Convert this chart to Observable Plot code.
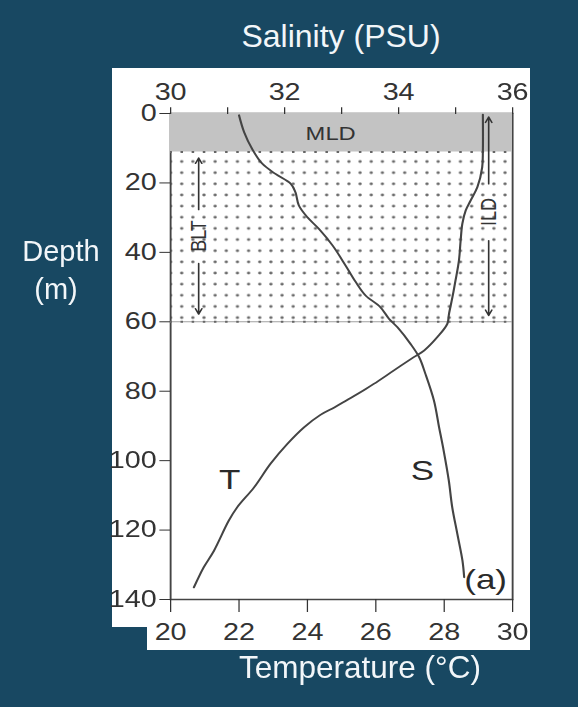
<!DOCTYPE html>
<html><head><meta charset="utf-8">
<script src="https://cdn.jsdelivr.net/npm/d3@7"></script>
<script src="https://cdn.jsdelivr.net/npm/@observablehq/plot@0.6"></script>
<style>
html,body{margin:0;padding:0;background:#184862;}
#page{position:relative;width:578px;height:707px;background:#184862;overflow:hidden;font-family:"Liberation Sans",Arial,sans-serif;color:#f2f6f9;}
.t{position:absolute;white-space:nowrap;text-align:center;line-height:1;}
#fig{position:absolute;left:112px;top:68px;width:418px;height:582px;background:#fff;}
#figInner{transform:scaleX(1.25);transform-origin:0 0;width:334px;height:582px;}
#notch{position:absolute;left:112px;top:627px;width:35px;height:23px;background:#184862;}
</style></head>
<body>
<div id="page">
  <div class="t" style="left:191px;width:300px;top:20px;font-size:32px;">Salinity (PSU)</div>
  <div id="fig"><div id="figInner"></div></div>
  <div id="notch"></div>
  <div class="t" style="left:0;width:122px;top:237px;font-size:29px;">Depth</div>
  <div class="t" style="left:0;width:112px;top:275px;font-size:29px;">(m)</div>
  <div class="t" style="left:210px;width:300px;top:652px;font-size:31.5px;">Temperature (°C)</div>
</div>
<script>
// Temperature profile (°C) vs depth (m)
const depthT = [0.3, 10.7, 15.5, 21.2, 25.1, 27.9, 31.7, 36.6, 42.4, 48.1, 52.9, 57.7, 60.6, 64.4, 68.3, 70.2, 74.0, 77.9, 80.6, 82.6, 84.6, 86.8, 90.4, 95.2, 100.9, 107.7, 113.4, 117.3, 125.9, 130.7, 136.5];
const temperature = [29.13, 29.13, 29.11, 28.97, 28.77, 28.63, 28.53, 28.48, 28.43, 28.33, 28.24, 28.14, 28.09, 27.80, 27.41, 27.11, 26.53, 25.94, 25.50, 25.15, 24.80, 24.38, 23.90, 23.41, 22.92, 22.44, 21.95, 21.70, 21.27, 20.97, 20.68];
// Salinity profile (PSU) vs depth (m)
const depthS = [0.5, 5.4, 10.2, 14.5, 17.4, 20.3, 22.7, 26.5, 29.9, 33.2, 38.0, 43.8, 48.6, 52.4, 55.8, 59.1, 61.6, 66.4, 70.2, 75.0, 82.7, 90.4, 97.1, 105.7, 113.4, 121.1, 128.8, 133.6];
const salinity = [31.20, 31.29, 31.43, 31.61, 31.84, 32.11, 32.19, 32.25, 32.40, 32.60, 32.84, 33.07, 33.25, 33.42, 33.68, 33.83, 33.98, 34.21, 34.36, 34.47, 34.62, 34.71, 34.79, 34.88, 34.94, 35.03, 35.12, 35.15];
// Layers (m)
const mld = 11.1;
const ild = 60;
// Axis ticks
const depthTicks = [0, 20, 40, 60, 80, 100, 120, 140];
const tempTicks = [20, 22, 24, 26, 28, 30];
const salTicks = [30, 31, 32, 33, 34, 35, 36];
// Arrow positions
const bltArrowTemp = 20.82;
const ildArrowSal = 35.58;

const salToT = s => 20 + (s - 30) * 10 / 6;
const tToSal = t => 30 + (t - 20) * 0.6;

const tData = depthT.map((d, i) => ({depth: d, value: temperature[i]}));
const sData = depthS.map((d, i) => ({depth: d, value: salToT(salinity[i])}));
const bands = [{top: 0, bottom: mld, kind: "MLD"}, {top: mld, bottom: ild, kind: "BLT"}];
const arrows = [
  {x: bltArrowTemp, from: 27.7, to: 12.8},
  {x: bltArrowTemp, from: 43.2, to: 57.8},
  {x: salToT(ildArrowSal), from: 20.3, to: 1.0},
  {x: salToT(ildArrowSal), from: 36.6, to: 58.2}
];
const sideLabels = [
  {text: "BLT", x: bltArrowTemp, depth: 35.3},
  {text: "ILD", x: salToT(ildArrowSal), depth: 28.4}
];
const curveLabels = [
  {text: "T", x: 21.73, depth: 105.6},
  {text: "S", x: 27.36, depth: 103.1},
  {text: "(a)", x: 29.21, depth: 134.3}
];

const dx = 8.92, dy = 11.15;
const defs = (index, scales) => {
  const g = d3.create("svg:defs");
  const x0 = scales.x(20) + 9.36 - dx / 2;
  const y0 = scales.y(mld) + 10 - dy / 2;
  const p = g.append("pattern").attr("id", "stipple").attr("patternUnits", "userSpaceOnUse")
    .attr("width", dx).attr("height", dy).attr("x", x0).attr("y", y0);
  p.append("circle").attr("cx", dx / 2).attr("cy", dy / 2).attr("r", 1.35).attr("fill", "#6a6a6a");
  return g.node();
};

const chart = Plot.plot({
  width: 334,
  height: 582,
  marginLeft: 46.4,
  marginRight: 14,
  marginTop: 45,
  marginBottom: 51,
  style: {background: "white", color: "#333", fontFamily: "'Liberation Sans', Arial, sans-serif", fontSize: "23px", overflow: "visible"},
  x: {domain: [20, 30]},
  y: {domain: [0, 140], reverse: true},
  marks: [
    defs,
    Plot.rect(bands.filter(b => b.kind === "BLT"), {x1: 20, x2: 30, y1: "top", y2: "bottom", fill: "url(#stipple)"}),
    Plot.frame({stroke: "#444", strokeWidth: 1.5}),
    Plot.rect(bands.filter(b => b.kind === "MLD"), {x1: 20, x2: 30, y1: "top", y2: "bottom", fill: "#c3c3c3"}),
    Plot.ruleY([ild], {stroke: "#a0a0a0", strokeWidth: 1}),
    Plot.ruleY(bands.filter(b => b.kind === "BLT").flatMap(b => [b.top, b.bottom]), {stroke: "#666", strokeWidth: 2, strokeDasharray: "2,6.92", strokeDashoffset: 0.52}),
    Plot.line(tData, {x: "value", y: "depth", stroke: "#444", strokeWidth: 1.7, curve: "catmull-rom"}),
    Plot.line(sData, {x: "value", y: "depth", stroke: "#444", strokeWidth: 1.7, curve: "catmull-rom"}),
    Plot.arrow(arrows, {x1: "x", x2: "x", y1: "from", y2: "to", stroke: "#333", strokeWidth: 1.3, headLength: 7, headAngle: 50}),
    Plot.text(bands.filter(b => b.kind === "MLD"), {x: 24.68, y: 6, text: "kind", fontSize: 19, fill: "#333"}),
    Plot.text(sideLabels, {x: "x", y: "depth", text: "text", rotate: -90, fontSize: 18, fill: "#333"}),
    Plot.text(curveLabels, {x: "x", y: "depth", text: "text", fontSize: 28, fill: "#2a2a2a"}),
    Plot.axisY({anchor: "left", ticks: depthTicks, tickSize: 8.5, tickPadding: 2.7, label: null, fontSize: 23}),
    Plot.axisX({anchor: "bottom", ticks: tempTicks, tickSize: 13, tickPadding: 11.5, label: null, fontSize: 23}),
    Plot.axisX({anchor: "top", ticks: salTicks.map(salToT), tickFormat: t => { const s = Math.round(tToSal(t)); return s % 2 === 0 ? String(s) : ""; }, tickSize: 6.7, tickPadding: 6.8, label: null, fontSize: 23})
  ]
});
document.getElementById("figInner").append(chart);
</script>
</body></html>
